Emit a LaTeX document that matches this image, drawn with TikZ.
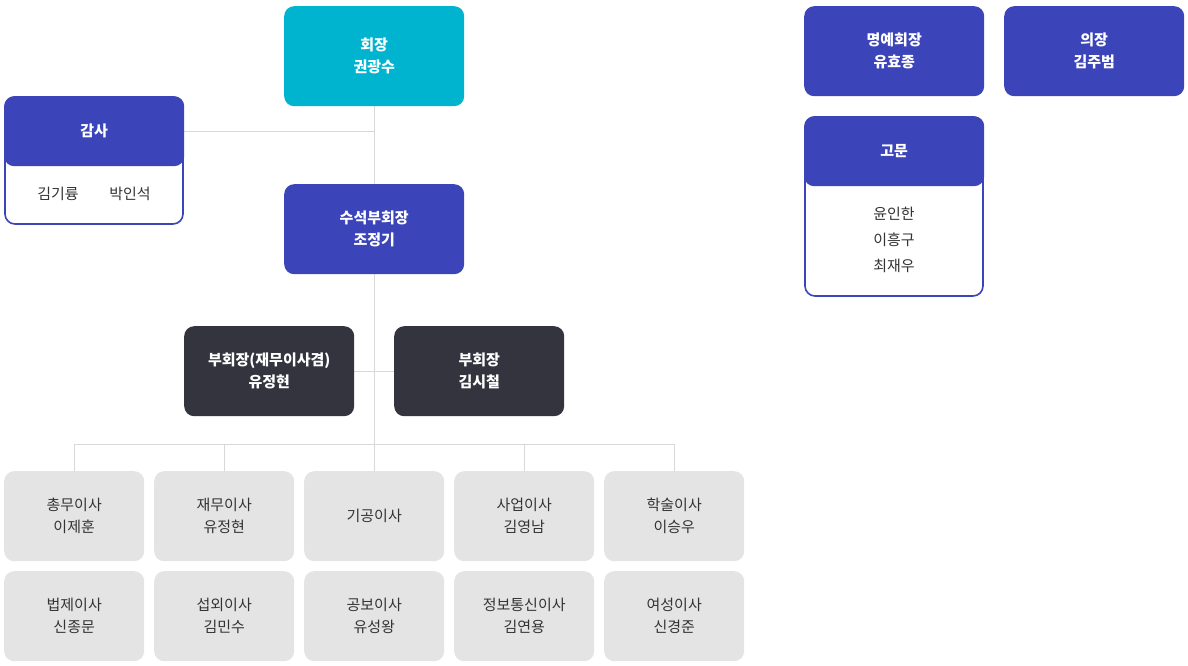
\documentclass[tikz,border=0pt]{standalone}
\usepackage{fontspec}
\setmainfont{Noto Sans CJK KR}
\usetikzlibrary{positioning}
\definecolor{cyanbox}{HTML}{00B4CF}
\definecolor{bluebox}{HTML}{3B44B8}
\definecolor{darkbox}{HTML}{34343E}
\definecolor{graybox}{HTML}{E4E4E4}
\definecolor{graytext}{HTML}{333333}
\definecolor{linegray}{HTML}{D8D8D8}
\tikzset{
  box/.style={anchor=north west, rounded corners=10pt, align=center, inner sep=0pt,
    font=\fontsize{15}{22}\selectfont\bfseries, text=white},
  topbox/.style={box, fill=cyanbox, minimum width=180pt, minimum height=100pt},
  headbox/.style={box, fill=bluebox, minimum width=180pt, minimum height=90pt},
  vicebox/.style={box, fill=darkbox, minimum width=170pt, minimum height=90pt},
  dirbox/.style={box, fill=graybox, minimum width=140pt, minimum height=90pt,
    text=graytext, font=\fontsize{15}{22}\selectfont},
  link/.style={draw=linegray, line width=0.8pt},
}
\begin{document}
\begin{tikzpicture}[x=1pt,y=-1pt]
      \useasboundingbox (0,0) rectangle (1188,666);

      % links
      \coordinate (hub1) at (374,131);
      \coordinate (hub2) at (374,371);
      \coordinate (hub3) at (374,444);
      \draw [link] (374,106) -- (hub3);
      \draw [link] (184,131) -- (hub1);
      \draw [link] (354,371) -- (394,371);
      \draw [link] (74,444) -- (674,444);
      \foreach \x in {74,224,374,524,674}
        \draw [link] (\x,444) -- (\x,471);

      % top
      \node [topbox] (pres) at (284,6) {회장\\권광수};
      \node [headbox] (first) at (284,184) {수석부회장\\조정기};

      % audit
      \draw [draw=bluebox, line width=1.6pt, fill=white, rounded corners=10pt] (5,97) rectangle (183,224);
      \node [headbox, minimum height=70pt, minimum width=180pt] (audit) at (4,96) {감사};
      \node [font=\fontsize{15}{22}\selectfont, text=graytext] (aud1) at (58,194) {김기륭};
      \node [font=\fontsize{15}{22}\selectfont, text=graytext] (aud2) at (130,194) {박인석};

      % vice
      \node [vicebox] (vice1) at (184,326) {부회장(재무이사겸)\\유정현};
      \node [vicebox] (vice2) at (394,326) {부회장\\김시철};

      % directors
      \node [dirbox] (d1) at (4,471) {총무이사\\이제훈};
      \node [dirbox] (d2) at (154,471) {재무이사\\유정현};
      \node [dirbox] (d3) at (304,471) {기공이사};
      \node [dirbox] (d4) at (454,471) {사업이사\\김영남};
      \node [dirbox] (d5) at (604,471) {학술이사\\이승우};
      \node [dirbox] (d6) at (4,571) {법제이사\\신종문};
      \node [dirbox] (d7) at (154,571) {섭외이사\\김민수};
      \node [dirbox] (d8) at (304,571) {공보이사\\유성왕};
      \node [dirbox] (d9) at (454,571) {정보통신이사\\김연용};
      \node [dirbox] (d10) at (604,571) {여성이사\\신경준};

      % right side
      \node [headbox] (honor) at (804,6) {명예회장\\유효종};
      \node [headbox] (chair) at (1004,6) {의장\\김주범};
      \draw [draw=bluebox, line width=1.6pt, fill=white, rounded corners=10pt] (805,117) rectangle (983,296);
      \node [headbox, minimum height=70pt] (advis) at (804,116) {고문};
      \node [font=\fontsize{15}{26}\selectfont, text=graytext, align=center] (advnames) at (894,240) {윤인한\\이흥구\\최재우};
\end{tikzpicture}
\end{document}
